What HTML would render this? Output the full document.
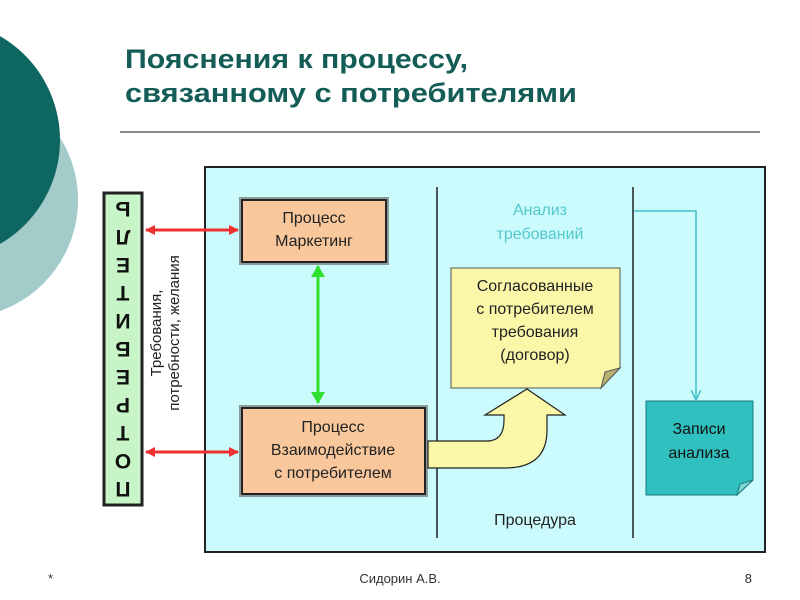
<!DOCTYPE html>
<html><head><meta charset="utf-8"><style>
html,body{margin:0;padding:0;background:#fff;}
svg{display:block;font-family:"Liberation Sans","Noto Sans CJK SC",sans-serif;}
</style></head><body>
<svg width="800" height="600" viewBox="0 0 800 600" xmlns="http://www.w3.org/2000/svg">
<defs>
<marker id="ra" markerWidth="10" markerHeight="10" refX="9" refY="5" orient="auto-start-reverse" markerUnits="userSpaceOnUse">
<path d="M0,0 L10,5 L0,10 Z" fill="#f03030"/></marker>
<marker id="ga" markerWidth="12" markerHeight="14" refX="11" refY="7" orient="auto-start-reverse" markerUnits="userSpaceOnUse">
<path d="M0,0 L12,7 L0,14 Z" fill="#30e030"/></marker>
<marker id="ta" markerWidth="10" markerHeight="10" refX="9" refY="5" orient="auto" markerUnits="userSpaceOnUse">
<path d="M0,0 L10,5 L0,10" fill="none" stroke="#40c0c8" stroke-width="1.5"/></marker>
</defs>
<circle cx="-40" cy="200" r="118" fill="#a3cbc9"/>
<circle cx="-60" cy="140" r="120" fill="#0e6660"/>
<text x="125" y="68" font-size="27" font-weight="bold" fill="#145d57" textLength="343" lengthAdjust="spacingAndGlyphs">Пояснения к процессу,</text>
<text x="125" y="102" font-size="27" font-weight="bold" fill="#145d57" textLength="452" lengthAdjust="spacingAndGlyphs">связанному с потребителями</text>
<line x1="120" y1="132" x2="760" y2="132" stroke="#888" stroke-width="2"/>

<rect x="205" y="167" width="560" height="385" fill="#ccfbfd" stroke="#222" stroke-width="2"/>
<line x1="437" y1="187" x2="437" y2="538" stroke="#222" stroke-width="1.5"/>
<line x1="633" y1="187" x2="633" y2="538" stroke="#222" stroke-width="1.5"/>

<rect x="104" y="193" width="38" height="312" fill="#c8f5c8" stroke="#222" stroke-width="3"/>
<g transform="rotate(180 123 349)" font-size="21" font-weight="bold" fill="#111" text-anchor="middle">
<text x="123" y="216">П</text><text x="123" y="244">О</text><text x="123" y="272">Т</text><text x="123" y="300">Р</text><text x="123" y="328">Е</text><text x="123" y="356">Б</text><text x="123" y="384">И</text><text x="123" y="412">Т</text><text x="123" y="440">Е</text><text x="123" y="468">Л</text><text x="123" y="496">Ь</text>
</g>
<g transform="translate(161 333) rotate(-90)" font-size="15" fill="#222" text-anchor="middle">
<text x="0" y="0">Требования,</text><text x="0" y="18">потребности, желания</text>
</g>

<line x1="146" y1="230" x2="238" y2="230" stroke="#f03030" stroke-width="3" marker-start="url(#ra)" marker-end="url(#ra)"/>
<line x1="146" y1="452" x2="238" y2="452" stroke="#f03030" stroke-width="3" marker-start="url(#ra)" marker-end="url(#ra)"/>
<line x1="318" y1="266" x2="318" y2="403" stroke="#30e030" stroke-width="3" marker-start="url(#ga)" marker-end="url(#ga)"/>

<rect x="239" y="197" width="150" height="68" fill="#8a9a98"/>
<rect x="242" y="200" width="144" height="62" fill="#f8c89c" stroke="#222" stroke-width="2"/>
<text x="314" y="223" font-size="16" fill="#222" text-anchor="middle">Процесс</text>
<text x="314" y="246" font-size="16" fill="#222" text-anchor="middle">Маркетинг</text>

<rect x="239" y="405" width="189" height="92" fill="#8a9a98"/>
<rect x="242" y="408" width="183" height="86" fill="#f8c89c" stroke="#222" stroke-width="2"/>
<text x="333" y="432" font-size="16" fill="#222" text-anchor="middle">Процесс</text>
<text x="333" y="455" font-size="16" fill="#222" text-anchor="middle">Взаимодействие</text>
<text x="333" y="478" font-size="16" fill="#222" text-anchor="middle">с потребителем</text>

<path d="M428,441 L487,441 Q504,441 504,420 L504,415 L485,415 L527,389 L565,415 L547,415 L547,430 Q547,468 505,468 L428,468 Z" fill="#fbf7a8" stroke="#222" stroke-width="1.2"/>

<path d="M451,268 L620,268 L620,368 L601,388 L451,388 Z" fill="#fbf7a8" stroke="#555" stroke-width="1"/>
<path d="M620,368 L601,388 L605,372 Z" fill="#b8b070" stroke="#555" stroke-width="1"/>
<g font-size="16" fill="#222" text-anchor="middle">
<text x="535" y="291">Согласованные</text><text x="535" y="314">с потребителем</text><text x="535" y="337">требования</text><text x="535" y="360">(договор)</text>
</g>

<text x="540" y="215" font-size="16" fill="#50c8cc" text-anchor="middle">Анализ</text>
<text x="540" y="239" font-size="16" fill="#50c8cc" text-anchor="middle">требований</text>

<path d="M634,211 L696,211 L696,399" fill="none" stroke="#40c0c8" stroke-width="1.5" marker-end="url(#ta)"/>

<path d="M646,401 L753,401 L753,480 L737,495 L646,495 Z" fill="#30c0c0" stroke="#1a7a7a" stroke-width="1"/>
<path d="M753,480 L737,495 L740,484 Z" fill="#7ad8d0" stroke="#1a7a7a" stroke-width="1"/>
<text x="699" y="434" font-size="16" fill="#111" text-anchor="middle">Записи</text>
<text x="699" y="458" font-size="16" fill="#111" text-anchor="middle">анализа</text>

<text x="535" y="525" font-size="16" fill="#222" text-anchor="middle">Процедура</text>

<text x="48" y="583" font-size="13" fill="#333">*</text>
<text x="400" y="583" font-size="13" fill="#333" text-anchor="middle">Сидорин А.В.</text>
<text x="752" y="583" font-size="13" fill="#333" text-anchor="end">8</text>
</svg>
</body></html>
